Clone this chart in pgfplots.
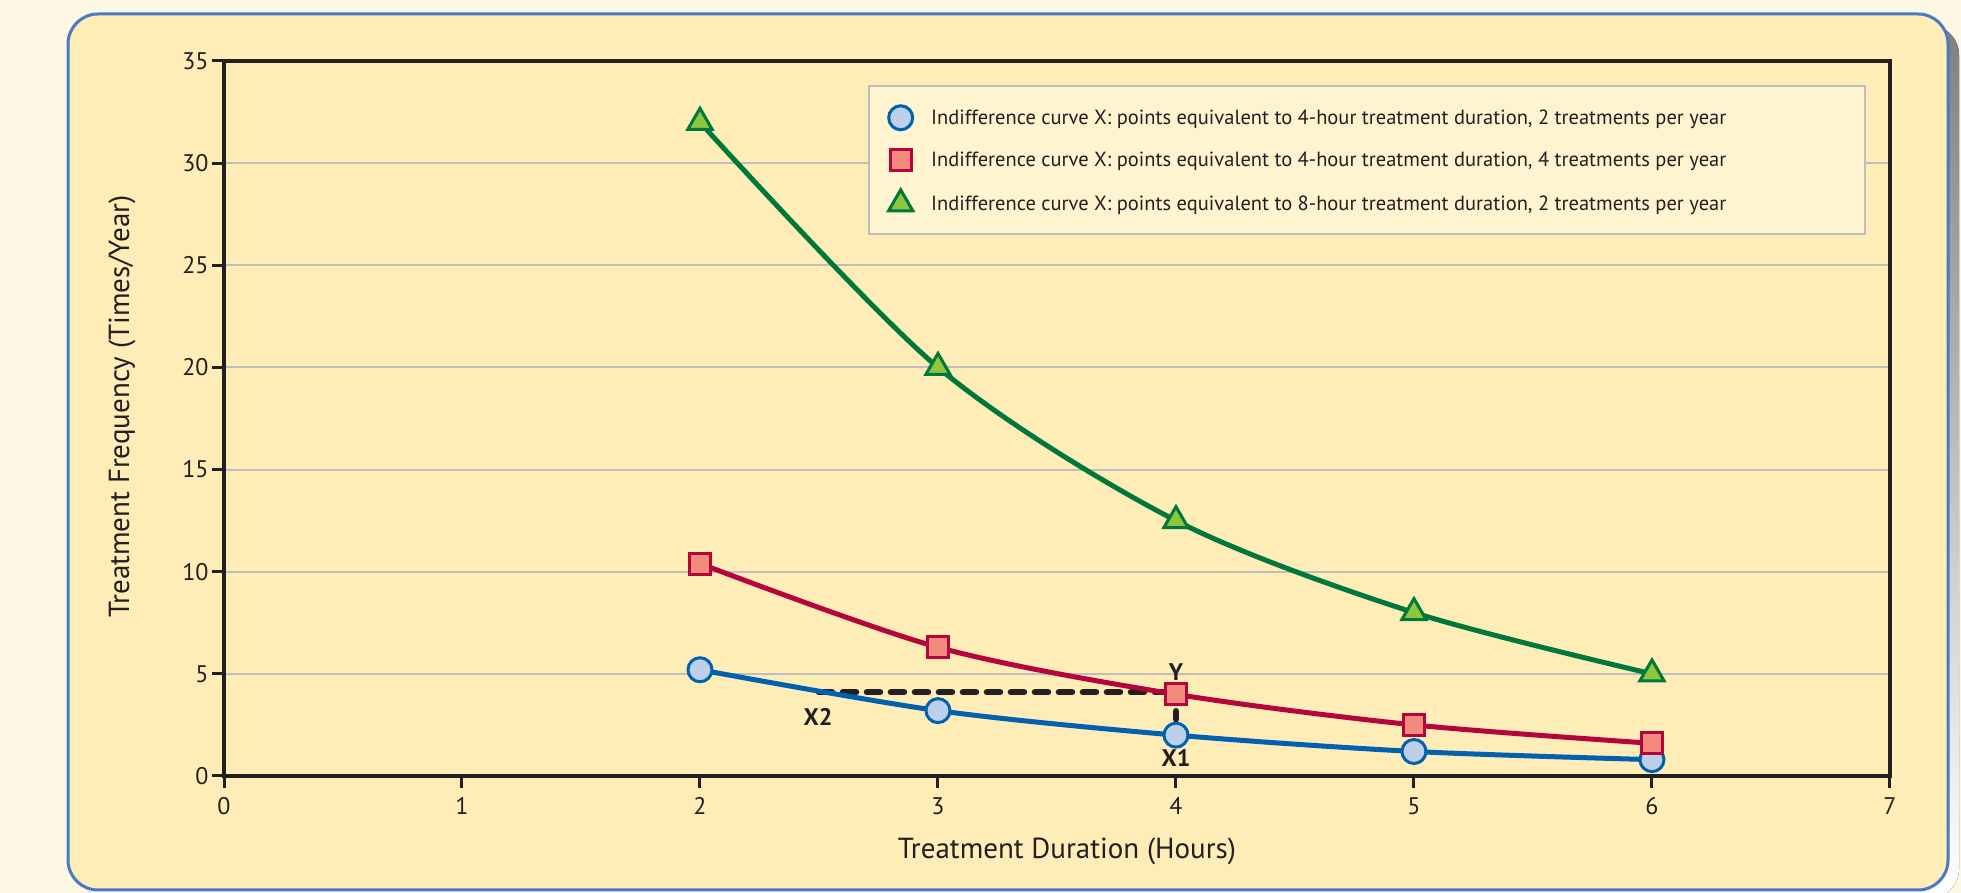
\documentclass[border=0pt]{standalone}
\usepackage{pgfplots}
\pgfplotsset{compat=1.18}
\usepackage{fontspec}
\setmainfont{PT Sans}
\definecolor{pagebg}{HTML}{FDF8E6}
\definecolor{boxbg}{HTML}{FFEDB8}
\definecolor{boxedge}{HTML}{4A78C2}
\definecolor{shade}{HTML}{8E8881}
\definecolor{ink}{HTML}{231F20}
\definecolor{gridc}{HTML}{BEBEBE}
\definecolor{legbg}{HTML}{FEF4D0}
\definecolor{legedge}{HTML}{BDBDBD}
\definecolor{blueline}{HTML}{0062AF}
\definecolor{bluefill}{HTML}{BCD0EA}
\definecolor{redline}{HTML}{B6043C}
\definecolor{redfill}{HTML}{F38B7C}
\definecolor{greenline}{HTML}{00773B}
\definecolor{greenfill}{HTML}{8DC63F}

\begin{document}
\begin{tikzpicture}
\useasboundingbox (0pt,0pt) rectangle (1961pt,893pt);
\fill[pagebg] (0pt,0pt) rectangle (1961pt,893pt);
% card with shadow
\fill[shade, rounded corners=30pt] (79pt,-6pt) rectangle (1959pt,868pt);
\filldraw[fill=boxbg, draw=boxedge, line width=3pt, rounded corners=30pt] (68pt,3pt) rectangle (1948pt,879pt);

\begin{axis}[
  at={(224pt,117pt)}, anchor=south west,
  width=1666pt, height=715pt, scale only axis,
  xmin=0, xmax=7, ymin=0, ymax=35,
  xtick={0,1,...,7}, ytick={0,5,...,35},
  tick align=outside, xtick pos=bottom, ytick pos=left,
  major tick length=12pt,
  axis line style={ink, line width=3.5pt},
  every tick/.style={ink, line width=3pt},
  ymajorgrids, grid style={gridc, line width=2pt},
  /pgf/number format/assume math mode=true,
  tick label style={font=\fontsize{24}{28}\selectfont, text=ink},
  xticklabel style={yshift=-6pt},
  label style={font=\fontsize{29}{34}\selectfont, text=ink},
  xlabel={Treatment Duration (Hours)},
  ylabel={Treatment Frequency (Times/Year)},
  xlabel style={at={(axis description cs:0.506,-0.106)}, anchor=center},
  ylabel style={at={(axis description cs:-0.0612,0.517)}, anchor=center},
  legend style={at={(axis description cs:0.9856,0.9664)}, anchor=north east,
    fill=legbg, draw=legedge, line width=1.5pt, inner ysep=20pt,
    font=\fontsize{20.5}{24}\selectfont, text=ink, row sep=19.5pt},
  legend cell align=left,
  legend image code/.code={\path (-26pt,0pt) (26pt,0pt);
    \draw[#1] plot[only marks] coordinates {(0pt,0pt)};},
]
% annotation: X2 -- Y and Y -- X1
\addplot[forget plot, ink, line width=6.5pt, line cap=round, dash pattern=on 13pt off 11pt]
  coordinates {(2.5,4.1) (4,4.1)};
\addplot[forget plot, ink, line width=6.5pt, line cap=round, dash pattern=on 8pt off 9pt]
  coordinates {(4,4) (4,2)};

\addplot[blueline, line width=5pt, smooth, mark=*, mark size=12pt,
  mark options={line width=3pt, fill=bluefill, draw=blueline}]
  coordinates {(2,5.2) (3,3.2) (4,2.0) (5,1.2) (6,0.8)};
\addlegendentry{\makebox[929pt][l]{Indifference curve X: points equivalent to 4-hour treatment duration, 2 treatments per year}}

\addplot[redline, line width=5pt, smooth, mark=square*, mark size=10.5pt,
  mark options={line width=3pt, fill=redfill, draw=redline}]
  coordinates {(2,10.4) (3,6.3) (4,4.0) (5,2.5) (6,1.6)};
\addlegendentry{\makebox[929pt][l]{Indifference curve X: points equivalent to 4-hour treatment duration, 4 treatments per year}}

\addplot[greenline, line width=5pt, smooth, mark=triangle*, mark size=14pt,
  mark options={line width=3pt, fill=greenfill, draw=greenline}]
  coordinates {(2,32) (3,20) (4,12.5) (5,8) (6,5)};
\addlegendentry{\makebox[929pt][l]{Indifference curve X: points equivalent to 8-hour treatment duration, 2 treatments per year}}

\node[font=\bfseries\fontsize{24}{28}\selectfont, text=ink] at (axis cs:4,5.09) {Y};
\node[font=\bfseries\fontsize{24}{28}\selectfont, text=ink] at (axis cs:4,0.88) {X1};
\node[font=\bfseries\fontsize{24}{28}\selectfont, text=ink] at (axis cs:2.496,2.89) {X2};
\end{axis}
\end{tikzpicture}
\end{document}
